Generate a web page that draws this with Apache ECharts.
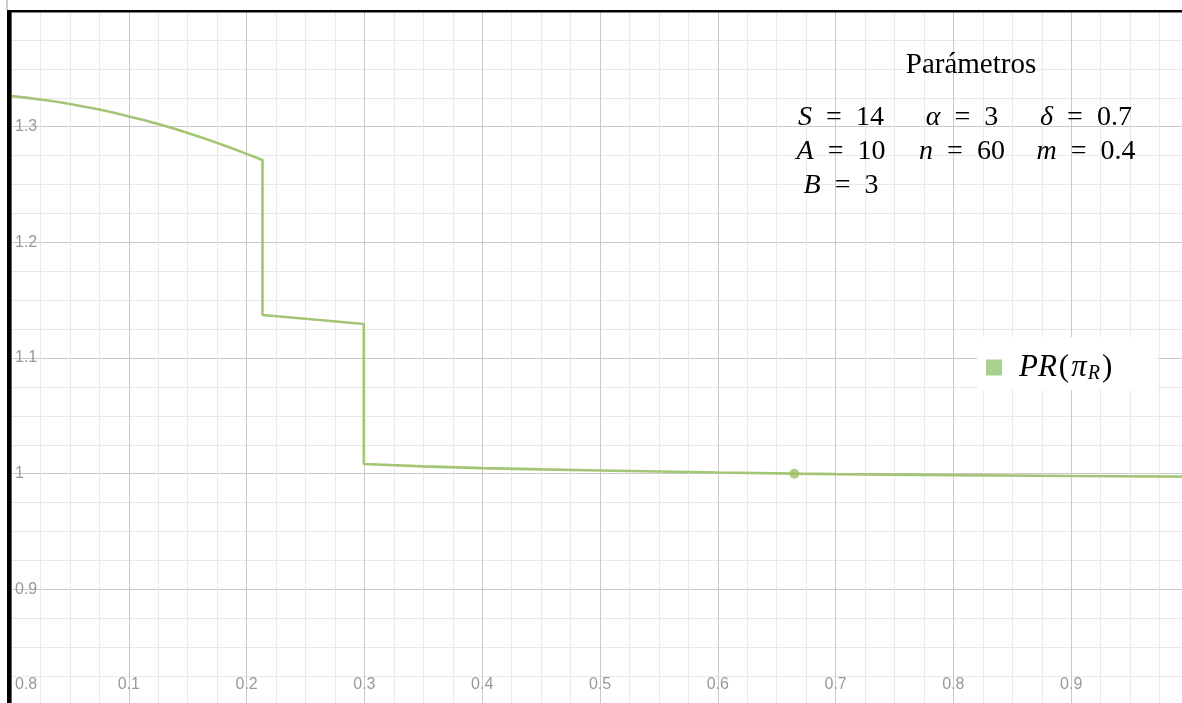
<!DOCTYPE html>
<html>
<head>
<meta charset="utf-8">
<script src="https://cdn.jsdelivr.net/npm/echarts@6/dist/echarts.min.js"></script>
<style>
  html, body { margin: 0; padding: 0; background: #ffffff; overflow: hidden; width: 1182px; height: 703px; }
  /* the plotting surface runs a few pixels past the visible window on the right and bottom */
  #chart { width: 1200px; height: 720px; }
</style>
</head>
<body>
<div id="chart"></div>
<script>
// PR(π_R) as a function of the share: three branches joined by vertical jumps
const prX = [0, 0.0125, 0.025, 0.0375, 0.05, 0.0625, 0.075, 0.0875, 0.1, 0.1125, 0.125, 0.1375,
             0.15, 0.1625, 0.175, 0.1875, 0.2, 0.2135,
             0.2135, 0.25, 0.2995,
             0.2995, 0.35, 0.4, 0.45, 0.5, 0.55, 0.6, 0.665, 0.7, 0.8, 0.9, 1.0];
const prY = [1.3265, 1.3251, 1.3235, 1.3217, 1.3196, 1.3173, 1.3148, 1.3120, 1.3088, 1.3057, 1.3022, 1.2986,
             1.2946, 1.2904, 1.2860, 1.2813, 1.2765, 1.2712,
             1.1372, 1.1339, 1.1294,
             1.0083, 1.0063, 1.0048, 1.0037, 1.0028, 1.0019, 1.0010, 1.0000, 0.9996, 0.9987, 0.9980, 0.9974];
// highlighted point on the last branch
const eqPoint = [0.665, 1.0];

// parameter table, one list per column: [symbol, value]
const paramTitle = 'Parámetros';
const paramCol1 = [['S', '14'], ['A', '10'], ['B', '3']];
const paramCol2 = [['α', '3'], ['n', '60']];
const paramCol3 = [['δ', '0.7'], ['m', '0.4']];

const seriesName = 'PR(πR)';
const lineColor = '#a3c576';

const chart = echarts.init(document.getElementById('chart'), null, { renderer: 'canvas' });

const tickFmt = v => String(+v.toFixed(2));
const serif = 'Liberation Serif';

// one text element per equation, centred in its column
const colCenters = [841, 962, 1086];
const rowCenters = [118, 152, 186];
const paramTexts = [];
[paramCol1, paramCol2, paramCol3].forEach((col, ci) => {
  col.forEach(([sym, val], ri) => {
    paramTexts.push({
      type: 'text',
      x: colCenters[ci],
      y: rowCenters[ri],
      z: 50,
      style: {
        text: '{v|' + sym + '}{p|\u2002=\u2002' + val + '}',
        align: 'center',
        verticalAlign: 'middle',
        rich: {
          v: { fontFamily: serif, fontStyle: 'italic', fontSize: 28, fill: '#000' },
          p: { fontFamily: serif, fontSize: 28, fill: '#000' }
        }
      }
    });
  });
});

const option = {
  backgroundColor: '#ffffff',
  animation: false,
  grid: { left: 11, top: 11, width: 1178, height: 694, containLabel: false },
  xAxis: {
    type: 'value', min: 0, max: 1, interval: 0.1,
    axisLine: { show: false }, axisTick: { show: false },
    minorTick: { show: true, splitNumber: 4, length: 0, lineStyle: { opacity: 0 } },
    splitLine: { show: true, lineStyle: { color: '#c9c9c9', width: 1 } },
    minorSplitLine: { show: true, lineStyle: { color: '#e9e9e9', width: 1 } },
    axisLabel: {
      inside: true, margin: 20, verticalAlign: 'middle',
      color: '#999999', fontSize: 16, fontFamily: 'Liberation Sans',
      showMinLabel: true, showMaxLabel: true, hideOverlap: false,
      formatter: v => (v === 0 ? '' : tickFmt(v))
    }
  },
  yAxis: {
    type: 'value', min: 0.8, max: 1.4, interval: 0.1,
    axisLine: { show: false }, axisTick: { show: false },
    minorTick: { show: true, splitNumber: 4, length: 0, lineStyle: { opacity: 0 } },
    splitLine: { show: true, lineStyle: { color: '#c9c9c9', width: 1 } },
    minorSplitLine: { show: true, lineStyle: { color: '#e9e9e9', width: 1 } },
    axisLabel: {
      inside: true, margin: 4, align: 'left', verticalAlign: 'middle',
      color: '#999999', fontSize: 16, fontFamily: 'Liberation Sans',
      showMinLabel: true, showMaxLabel: true, hideOverlap: false,
      formatter: v => {
        const s = tickFmt(v);
        if (s === '1.4') return '';
        if (s === '0.8') return '{lo|0.8}';
        return s;
      },
      rich: {
        lo: { padding: [0, 0, 40, 0], color: '#999999', fontSize: 16, fontFamily: 'Liberation Sans' }
      }
    }
  },
  legend: {
    show: true,
    left: 977, top: 337,
    orient: 'vertical',
    backgroundColor: '#ffffff',
    padding: [14, 44, 6, 9],
    itemWidth: 16, itemHeight: 16,
    icon: 'rect',
    itemStyle: { color: '#a9d18e', borderWidth: 0 },
    data: [{ name: seriesName, icon: 'rect' }],
    formatter: () => '{g|}{v|PR}{p|(}{v|π}{s|R}{p|)}',
    textStyle: {
      rich: {
        g: { width: 11, height: 10 },
        v: { fontFamily: serif, fontStyle: 'italic', fontSize: 31, color: '#000', lineHeight: 36, padding: [0, 1, 0, 1] },
        p: { fontFamily: serif, fontSize: 31, color: '#000', lineHeight: 36, padding: [0, 1, 0, 1] },
        s: { fontFamily: serif, fontStyle: 'italic', fontSize: 20, color: '#000', lineHeight: 36, padding: [13, 1, 0, 0] }
      }
    }
  },
  series: [
    {
      name: seriesName,
      type: 'line',
      data: prX.map((x, i) => [x, prY[i]]),
      showSymbol: false,
      symbol: 'none',
      smooth: false,
      lineStyle: { color: lineColor, width: 2.6 },
      itemStyle: { color: lineColor },
      z: 3
    },
    {
      name: 'eq',
      type: 'scatter',
      data: [eqPoint],
      symbolSize: 10,
      itemStyle: { color: '#9cbf68' },
      z: 4
    }
  ],
  graphic: [
    {
      type: 'text', x: 971, y: 65, z: 50,
      style: { text: paramTitle, align: 'center', verticalAlign: 'middle',
               font: '29px "Liberation Serif"', fill: '#000' }
    },
    ...paramTexts,
    // frame around the plot
    { type: 'rect', z: 100, shape: { x: 7, y: 10, width: 1193, height: 2.5 }, style: { fill: '#000' } },
    { type: 'rect', z: 100, shape: { x: 7, y: 10, width: 4.5, height: 710 }, style: { fill: '#000' } },
    { type: 'rect', z: 100, shape: { x: 6.5, y: 0, width: 1, height: 10 }, style: { fill: '#9a9a9a' } }
  ]
};

chart.setOption(option);
</script>
</body>
</html>
